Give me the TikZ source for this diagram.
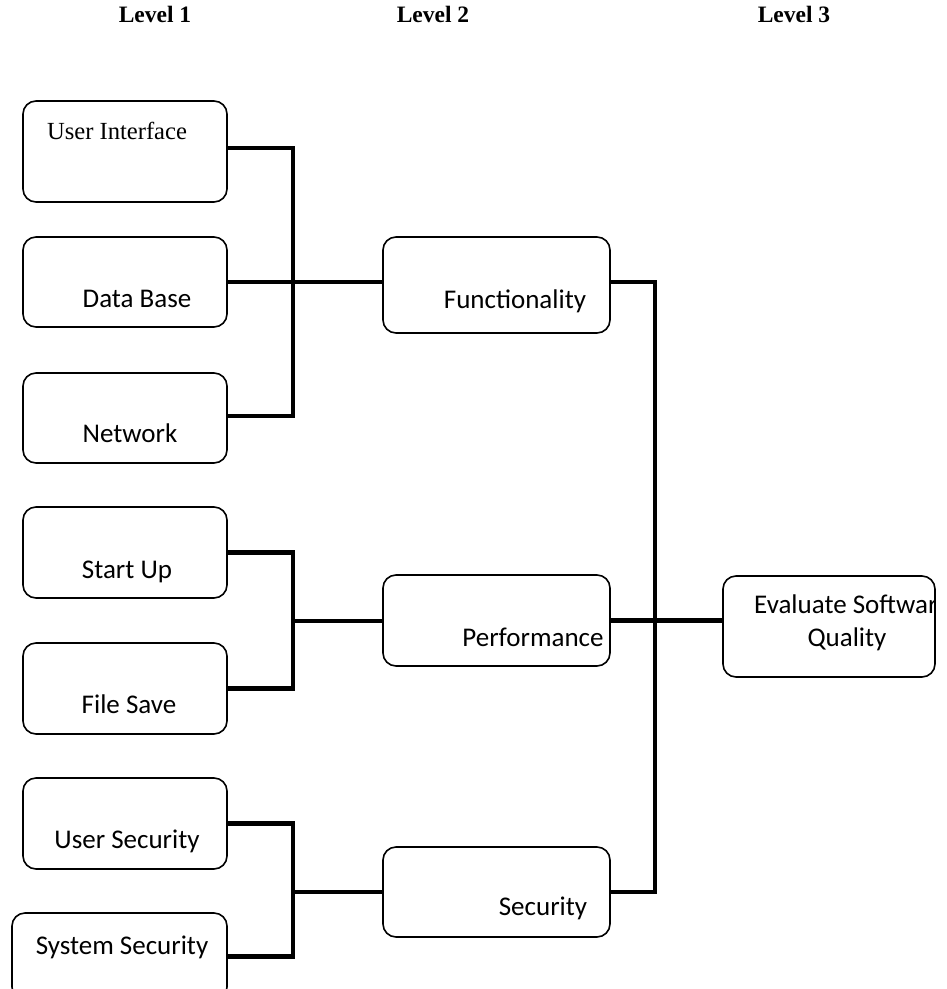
\documentclass[tikz,border=0pt]{standalone}
\usepackage{fontspec}
\setmainfont{Liberation Serif}
\newfontfamily\calfont{Carlito}
\begin{document}
\begin{tikzpicture}[x=1pt,y=-1pt,
  box/.style={draw=black,line width=1.6pt,rounded corners=13pt,rectangle,inner sep=0pt,fill=white},
  conn/.style={draw=black,line width=4.6pt,line join=miter},
  lbl/.style={anchor=base,inner sep=0pt,font=\calfont\fontsize{27}{32}\selectfont},
  lev/.style={anchor=base,inner sep=0pt,font=\bfseries\fontsize{23.5}{28}\selectfont}]
\clip (0,0) rectangle (947,989);
\useasboundingbox (0,0) rectangle (947,989);
% level headings
\node[lev] (L1) at (155,22) {Level 1};
\node[lev] (L2) at (433,22) {Level 2};
\node[lev] (L3) at (794,22) {Level 3};
% boxes
\node[box,minimum width=204pt,minimum height=101pt] (ui) at (125,151.5) {};
\node[box,minimum width=204pt,minimum height=90pt] (db) at (125,282) {};
\node[box,minimum width=204pt,minimum height=90pt] (nw) at (125,418) {};
\node[box,minimum width=204pt,minimum height=91pt] (su) at (125,552.5) {};
\node[box,minimum width=204pt,minimum height=91pt] (fs) at (125,688.5) {};
\node[box,minimum width=204pt,minimum height=91pt] (us) at (125,823.5) {};
\node[box,minimum width=215pt,minimum height=87pt] (ss) at (119.5,956.5) {};
\node[box,minimum width=227pt,minimum height=96pt] (fn) at (496.5,285) {};
\node[box,minimum width=227pt,minimum height=91pt] (pf) at (496.5,620.5) {};
\node[box,minimum width=227pt,minimum height=90pt] (sc) at (496.5,892) {};
\node[box,minimum width=212pt,minimum height=101pt] (ev) at (829,626.5) {};
\coordinate (j1) at (293,282);
\coordinate (j2) at (293,621);
\coordinate (j3) at (293,892);
\coordinate (j4) at (655,621);
% group 1
\draw[conn] ([yshift=3.5pt]ui.east) -| (j1) |- ([yshift=2pt]nw.east);
\draw[conn] (db.east) -- (db.east -| fn.west);
% group 2
\draw[conn] (su.east) -| (j2) |- (fs.east);
\draw[conn] (j2) -- (j2 -| pf.west);
% group 3
\draw[conn] (us.east) -| (j3) |- (ss.east);
\draw[conn] (j3) -- (sc.west);
% level 2 to 3
\draw[conn] ([yshift=3pt]fn.east) -| (j4) |- (sc.east);
\draw[conn] (pf.east) -- (pf.east -| ev.west);
% texts
\node[anchor=base,inner sep=0pt,font=\fontsize{24.6}{29}\selectfont] (tui) at (117,139) {User Interface};
\node[lbl] (tdb) at (137,307) {Data Base};
\node[lbl] (tnw) at (130,442) {Network};
\node[lbl] (tsu) at (127,578) {Start Up};
\node[lbl] (tfs) at (129,713) {File Save};
\node[lbl] (tus) at (127,848) {User Security};
\node[lbl] (tss) at (122,954) {System Security};
\node[lbl] (tfn) at (515,308) {Functionality};
\node[lbl] (tpf) at (533,646) {Performance};
\node[lbl] (tsc) at (543,915) {Security};
\begin{scope}
\clip (723,576) rectangle (935,677);
\node[lbl,anchor=base west] (tev) at (754,613) {Evaluate Software};
\end{scope}
\node[lbl] (tq) at (847,646) {Quality};
\end{tikzpicture}
\end{document}
